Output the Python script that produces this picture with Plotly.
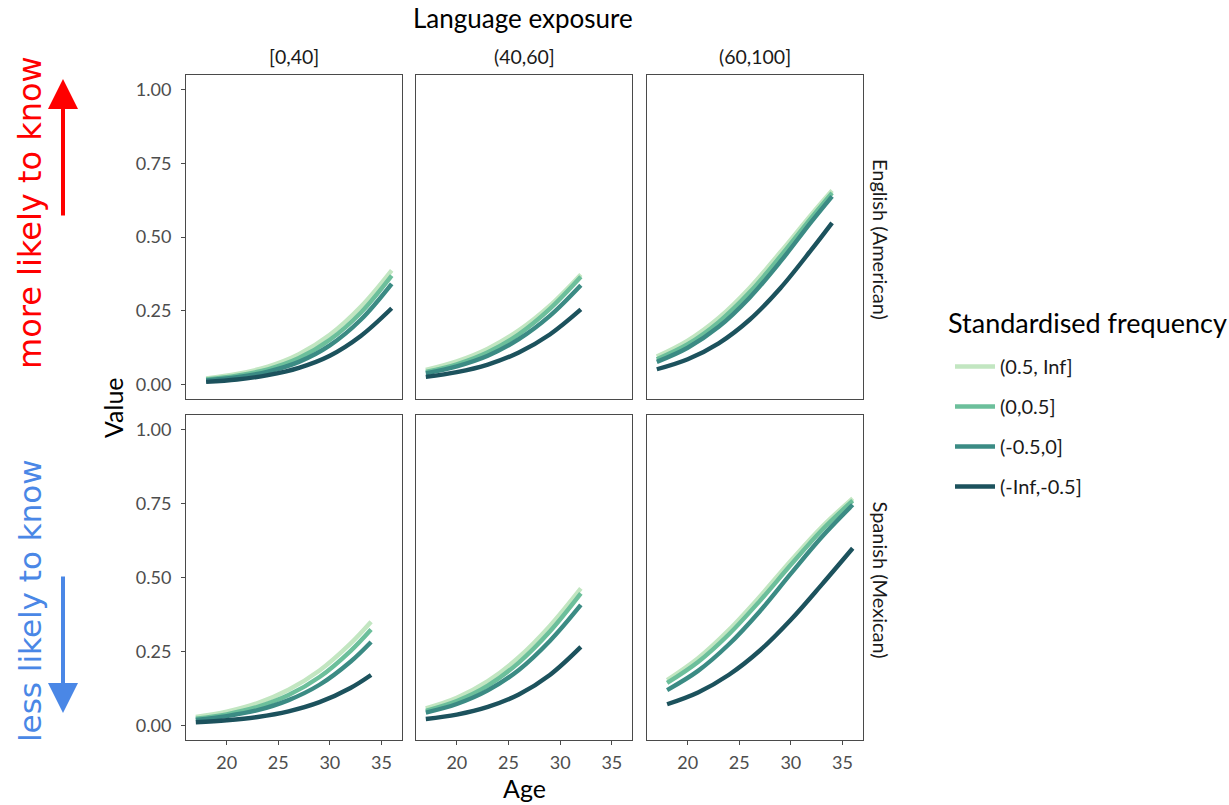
import plotly.graph_objects as go

# ---------------- data ----------------
exposure_bins = ["[0,40]", "(40,60]", "(60,100]"]
languages = ["English (American)", "Spanish (Mexican)"]
freq_bins = ["(0.5, Inf]", "(0,0.5]", "(-0.5,0]", "(-Inf,-0.5]"]
freq_colors = ["#c2e6c1", "#6cbf9b", "#3b8b84", "#1c525d"]

# English (American)
ages_en_low = [18, 21, 24, 27, 30, 33, 36]
en_low_hi = [0.020, 0.035, 0.060, 0.102, 0.168, 0.263, 0.387]
en_low_mid = [0.016, 0.029, 0.051, 0.089, 0.151, 0.243, 0.369]
en_low_lo = [0.013, 0.024, 0.043, 0.076, 0.132, 0.219, 0.341]
en_low_vlo = [0.008, 0.016, 0.031, 0.056, 0.097, 0.164, 0.258]

ages_en_med = [17, 20, 23, 26, 29, 32]
en_med_hi = [0.049, 0.078, 0.121, 0.183, 0.267, 0.373]
en_med_mid = [0.042, 0.068, 0.109, 0.170, 0.256, 0.365]
en_med_lo = [0.037, 0.061, 0.097, 0.153, 0.232, 0.336]
en_med_vlo = [0.025, 0.041, 0.067, 0.108, 0.169, 0.254]

ages_en_high = [17, 20, 23, 26, 29, 32, 34]
en_high_hi = [0.094, 0.148, 0.225, 0.327, 0.449, 0.577, 0.658]
en_high_mid = [0.085, 0.136, 0.211, 0.312, 0.435, 0.566, 0.650]
en_high_lo = [0.076, 0.124, 0.195, 0.294, 0.417, 0.552, 0.638]
en_high_vlo = [0.051, 0.085, 0.139, 0.219, 0.327, 0.457, 0.548]

# Spanish (Mexican)
ages_es_low = [17, 20, 23, 26, 29, 32, 34]
es_low_hi = [0.028, 0.046, 0.075, 0.120, 0.185, 0.276, 0.350]
es_low_mid = [0.022, 0.037, 0.062, 0.102, 0.163, 0.251, 0.324]
es_low_lo = [0.018, 0.031, 0.051, 0.085, 0.137, 0.215, 0.282]
es_low_vlo = [0.010, 0.017, 0.028, 0.047, 0.078, 0.126, 0.170]

ages_es_med = [17, 20, 23, 26, 29, 32]
es_med_hi = [0.057, 0.093, 0.149, 0.230, 0.336, 0.463]
es_med_mid = [0.049, 0.082, 0.134, 0.212, 0.317, 0.446]
es_med_lo = [0.043, 0.072, 0.118, 0.187, 0.285, 0.407]
es_med_vlo = [0.021, 0.036, 0.062, 0.104, 0.170, 0.265]

ages_es_high = [18, 21, 24, 27, 30, 33, 36]
es_high_hi = [0.153, 0.227, 0.323, 0.436, 0.557, 0.671, 0.768]
es_high_mid = [0.143, 0.214, 0.308, 0.421, 0.543, 0.660, 0.760]
es_high_lo = [0.119, 0.184, 0.274, 0.386, 0.513, 0.637, 0.746]
es_high_vlo = [0.071, 0.111, 0.171, 0.253, 0.357, 0.476, 0.599]

x_ticks = [20, 25, 30, 35]
y_ticks = [0, 0.25, 0.5, 0.75, 1.0]
y_tick_labels = ["0.00", "0.25", "0.50", "0.75", "1.00"]

panels = [
    [(ages_en_low, [en_low_hi, en_low_mid, en_low_lo, en_low_vlo]),
     (ages_en_med, [en_med_hi, en_med_mid, en_med_lo, en_med_vlo]),
     (ages_en_high, [en_high_hi, en_high_mid, en_high_lo, en_high_vlo])],
    [(ages_es_low, [es_low_hi, es_low_mid, es_low_lo, es_low_vlo]),
     (ages_es_med, [es_med_hi, es_med_mid, es_med_lo, es_med_vlo]),
     (ages_es_high, [es_high_hi, es_high_mid, es_high_lo, es_high_vlo])],
]

# ---------------- layout geometry ----------------
W, H = 1229, 805
col_px = [(186, 401.5), (416, 632), (647, 862.5)]
row_px = [(75, 399), (415, 740)]


def xdom(c):
    a, b = col_px[c]
    return [a / W, b / W]


def ydom(r):
    a, b = row_px[r]
    return [1 - b / H, 1 - a / H]


def px(x):
    return x / W


def py(y):
    return 1 - y / H


fig = go.Figure()
layout = {}
for r in range(2):
    for c in range(3):
        i = r * 3 + c + 1
        xa = "x" if i == 1 else f"x{i}"
        ya = "y" if i == 1 else f"y{i}"
        ages, series = panels[r][c]
        for k in range(4):
            fig.add_trace(go.Scatter(
                x=ages, y=series[k], mode="lines",
                line=dict(color=freq_colors[k], width=4.4, shape="spline"),
                name=freq_bins[k], legendgroup=freq_bins[k],
                showlegend=(i == 1), xaxis=xa, yaxis=ya,
                hoverinfo="skip"))
        common = dict(showline=True, linecolor="#4a4a4a", linewidth=1,
                      mirror=True, showgrid=False, zeroline=False,
                      ticklen=4, tickcolor="#4a4a4a", tickwidth=1,
                      tickfont=dict(family="Lato", size=18, color="#4d4d4d"))
        layout["xaxis" if i == 1 else f"xaxis{i}"] = dict(
            domain=xdom(c), anchor=ya, range=[16.05, 36.95],
            tickvals=x_ticks, showticklabels=(r == 1),
            ticks="outside" if r == 1 else "", ticklabelstandoff=2,
            **common)
        layout["yaxis" if i == 1 else f"yaxis{i}"] = dict(
            domain=ydom(r), anchor=xa, range=[-0.05, 1.05],
            tickvals=y_ticks, ticktext=y_tick_labels,
            showticklabels=(c == 0), ticks="outside" if c == 0 else "",
            ticklabelstandoff=6,
            **common)

fig.update_layout(**layout)


def label(x, y, text, size, color, angle=0, family="Lato", xanchor="center"):
    return dict(x=px(x), y=py(y), xref="paper", yref="paper", text=text,
                showarrow=False, textangle=angle, xanchor=xanchor, yanchor="middle",
                font=dict(family=family, size=size, color=color))


ann = []
for c, lab in enumerate(exposure_bins):
    a, b = col_px[c]
    ann.append(label((a + b) / 2, 56, lab, 19.5, "#1a1a1a"))
for r, lab in enumerate(languages):
    a, b = row_px[r]
    ann.append(label(881, (a + b) / 2 + 2, lab, 20, "#1a1a1a", angle=90))

ann.append(label(523, 18, "Language exposure", 26, "#000000"))
ann.append(label(524, 788, "Age", 25, "#000000"))
ann.append(label(113, 408, "Value", 25, "#000000", angle=-90))
ann.append(label(946, 323, "Standardised frequency", 27, "#000000", xanchor="left"))

ann.append(label(30, 213, "more likely to know", 32, "#ff0000", angle=-90,
                 family="DejaVu Sans"))
ann.append(label(30, 601, "less likely to know", 31, "#4a87e6", angle=-90,
                 family="DejaVu Sans"))
ann.append(dict(x=px(63), y=py(79), xref="paper", yref="paper",
                text="", showarrow=True, ax=0, ay=138, axref="pixel", ayref="pixel",
                arrowhead=2, arrowsize=1.5, arrowwidth=4, arrowcolor="#ff0000"))
ann.append(dict(x=px(63), y=py(713), xref="paper", yref="paper",
                text="", showarrow=True, ax=0, ay=-138, axref="pixel", ayref="pixel",
                arrowhead=2, arrowsize=1.5, arrowwidth=4, arrowcolor="#4a87e6"))

fig.update_layout(
    annotations=ann,
    width=W, height=H,
    margin=dict(l=0, r=0, t=0, b=0),
    paper_bgcolor="white", plot_bgcolor="white",
    showlegend=True,
    legend=dict(
        x=px(950), y=py(347), xanchor="left", yanchor="top",
        font=dict(family="Lato", size=20, color="#1a1a1a"),
        tracegroupgap=11, itemwidth=40, bgcolor="rgba(0,0,0,0)"),
)

fig.write_html("out.html",
               config={"displayModeBar": False},
               post_script="document.body.style.margin='0px';"
                           "document.body.style.overflow='hidden';")
